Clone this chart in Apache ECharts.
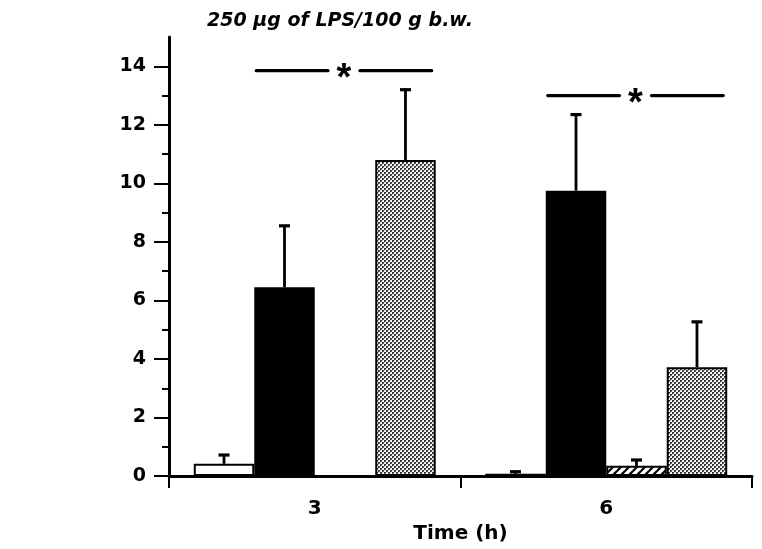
<!DOCTYPE html>
<html>
<head>
<meta charset="utf-8">
<script src="https://cdn.jsdelivr.net/npm/echarts@6/dist/echarts.min.js"></script>
<style>html,body{margin:0;padding:0;background:#fff;}#c{width:762px;height:549px;}</style>
</head>
<body>
<div id="c"></div>
<script>
// ---- data ----
var categories = ['3', '6'];
var whiteVals = [0.42, 0.08];
var whiteErr = [0.30, 0.07];
var blackVals = [6.45, 9.75];
var blackErr = [2.10, 2.60];
var hatchVals = [0, 0.35];
var hatchErr = [0, 0.20];
var stippleVals = [10.80, 3.72];
var stippleErr = [2.40, 1.55];
var sigLevels = [13.85, 13.0];
var yMajorTicks = [0, 2, 4, 6, 8, 10, 12, 14];
var yMinorTicks = [1, 3, 5, 7, 9, 11, 13];
var titleText = '250 \u00b5g of LPS/100 g b.w.';
var xName = 'Time (h)';

// ---- patterns ----
function hatchPattern() {
  var c = document.createElement('canvas'); c.width = 8; c.height = 8;
  var g = c.getContext('2d');
  g.fillStyle = '#fff'; g.fillRect(0, 0, 8, 8);
  g.strokeStyle = '#000'; g.lineWidth = 2.2;
  g.beginPath(); g.moveTo(-2, 10); g.lineTo(10, -2); g.stroke();
  g.beginPath(); g.moveTo(-6, 6); g.lineTo(6, -6); g.stroke();
  g.beginPath(); g.moveTo(2, 14); g.lineTo(14, 2); g.stroke();
  return c;
}
function stipplePattern() {
  var c = document.createElement('canvas'); c.width = 4; c.height = 4;
  var g = c.getContext('2d');
  g.fillStyle = '#fff'; g.fillRect(0, 0, 4, 4);
  g.fillStyle = '#333';
  g.fillRect(0, 0, 2, 2); g.fillRect(2, 2, 2, 2);
  g.fillStyle = '#ccc';
  g.fillRect(2, 0, 1, 1); g.fillRect(0, 2, 1, 1);
  g.fillStyle = '#777';
  g.fillRect(1, 1, 1, 1); g.fillRect(3, 3, 1, 1);
  return c;
}

var FONT = '"DejaVu Sans", "Liberation Sans", Arial, sans-serif';
var barGapPct = 0.17;
var seriesDefs = [
  {name: 'A', vals: whiteVals, err: whiteErr, color: '#fff'},
  {name: 'B', vals: blackVals, err: blackErr, color: '#000'},
  {name: 'C', vals: hatchVals, err: hatchErr, color: {image: hatchPattern(), repeat: 'repeat'}},
  {name: 'D', vals: stippleVals, err: stippleErr, color: {image: stipplePattern(), repeat: 'repeat'}}
];

var series = seriesDefs.map(function (s) {
  return {
    name: s.name, type: 'bar', data: s.vals,
    barGap: '0%', barCategoryGap: (barGapPct * 100) + '%',
    itemStyle: {color: s.color, borderColor: '#000', borderWidth: 2},
    silent: true, z: 2
  };
});

// error bars
var errData = [];
seriesDefs.forEach(function (s, k) {
  s.vals.forEach(function (v, i) {
    if (s.err[i] > 0) errData.push([i, v, v + s.err[i], k]);
  });
});
series.push({
  type: 'custom', z: 5, silent: true,
  renderItem: function (params, api) {
    var ci = api.value(0), v = api.value(1), top = api.value(2), k = api.value(3);
    var band = api.size([1, 0])[0];
    var bw = band * (1 - barGapPct) / 4;
    var cx = api.coord([ci, 0])[0] + (k - 1.5) * bw;
    var y0 = api.coord([ci, v])[1], y1 = api.coord([ci, top])[1];
    var st = {stroke: '#000', lineWidth: 2.8};
    return {type: 'group', children: [
      {type: 'line', shape: {x1: cx, y1: y0, x2: cx, y2: y1}, style: st},
      {type: 'line', shape: {x1: cx - 5.5, y1: y1, x2: cx + 5.5, y2: y1}, style: {stroke: '#000', lineWidth: 3.2}}
    ]};
  },
  data: errData
});

// significance annotations
series.push({
  type: 'custom', z: 6, silent: true,
  renderItem: function (params, api) {
    var ci = api.value(0), lv = api.value(1);
    var band = api.size([1, 0])[0];
    var bw = band * (1 - barGapPct) / 4;
    var c0 = api.coord([ci, lv]);
    var cx = c0[0], y = c0[1];
    var left = cx - 1 * bw + 2, right = cx + 2 * bw - 4;
    var star = cx + 0.5 * bw - 1;
    var st = {stroke: '#000', lineWidth: 3.2, lineCap: 'round'};
    return {type: 'group', children: [
      {type: 'line', shape: {x1: left, y1: y, x2: star - 16, y2: y}, style: st},
      {type: 'line', shape: {x1: star + 16, y1: y, x2: right, y2: y}, style: st},
      {type: 'text', style: {x: star, y: y + 9, text: '*', fill: '#000',
        font: 'bold 38px "Liberation Sans", Arial', align: 'center', verticalAlign: 'middle'}}
    ]};
  },
  data: sigLevels.map(function (l, i) { return [i, l]; })
});

var chart = echarts.init(document.getElementById('c'), null, {renderer: 'canvas'});
chart.setOption({
  animation: false,
  backgroundColor: '#fff',
  title: {
    text: titleText, left: 202, top: 7,
    textStyle: {fontFamily: FONT, fontWeight: 'bold', fontStyle: 'italic', fontSize: 19, color: '#000'}
  },
  grid: {left: 169, top: 37, right: 10, bottom: 68, containLabel: false},
  xAxis: {
    type: 'category', data: categories,
    name: xName, nameLocation: 'middle', nameGap: 40,
    nameTextStyle: {fontFamily: FONT, fontWeight: 'bold', fontSize: 20, color: '#000'},
    axisLine: {lineStyle: {color: '#000', width: 3}},
    axisTick: {show: true, length: 12, inside: false, alignWithLabel: false, lineStyle: {color: '#000', width: 2}},
    axisLabel: {margin: 23, fontFamily: FONT, fontWeight: 'bold', fontSize: 20, color: '#000'},
    splitLine: {show: false}
  },
  yAxis: [{
    type: 'value', min: 0, max: 15,
    axisLine: {show: true, lineStyle: {color: '#000', width: 3}},
    axisTick: {show: true, length: 15, customValues: yMajorTicks, lineStyle: {color: '#000', width: 2}},
    axisLabel: {customValues: yMajorTicks, margin: 23, fontFamily: FONT, fontWeight: 'bold', fontSize: 19, color: '#000'},
    splitLine: {show: false}
  }, {
    type: 'value', min: 0, max: 15, position: 'left',
    axisLine: {show: false},
    axisTick: {show: true, length: 7, customValues: yMinorTicks, lineStyle: {color: '#000', width: 2}},
    axisLabel: {show: false},
    splitLine: {show: false}
  }],
  series: series
});
</script>
</body>
</html>
